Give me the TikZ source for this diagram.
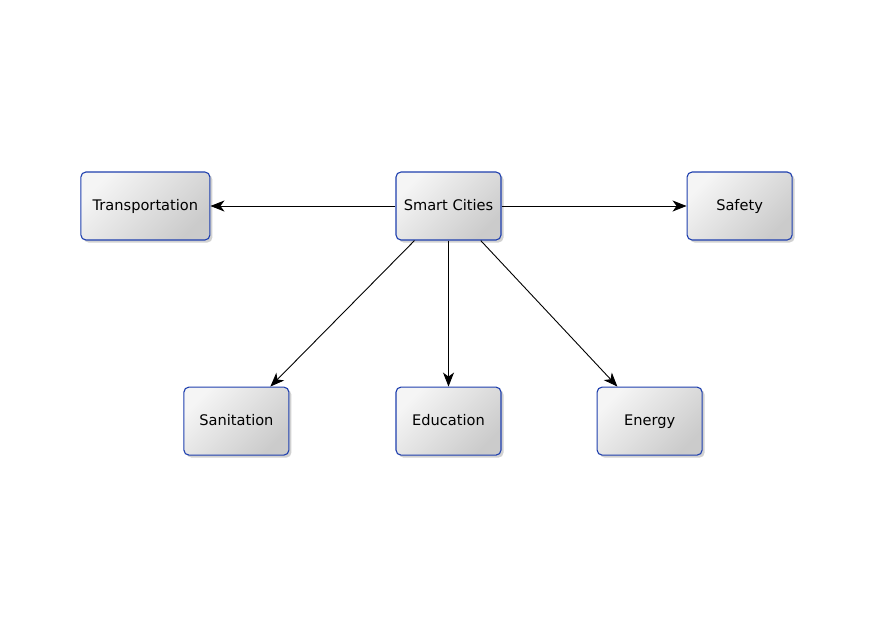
\documentclass[tikz,border=0pt]{standalone}
\usepackage{fontspec}
\setmainfont{DejaVu Sans}
\usetikzlibrary{arrows.meta,positioning,shadows}
\definecolor{boxblue}{HTML}{1E3FAE}
\definecolor{shadelight}{HTML}{F5F5F5}
\definecolor{shadedark}{HTML}{CBCBCB}
\tikzset{
  topic/.style={rectangle,rounded corners=5pt,draw=boxblue,line width=1.1pt,top color=shadelight,bottom color=shadedark,shading angle=45,minimum width=105pt,minimum height=68pt,inner xsep=4pt,text height=11pt,text depth=3pt,align=center,font=\fontsize{14.6}{18}\selectfont,drop shadow={shadow xshift=2.5pt,shadow yshift=-2.5pt,opacity=0.3,fill=black!60}},
  arrow/.style={-{Stealth[length=14pt,width=11pt,inset=4pt]},line width=0.9pt,draw=black}
}

\begin{document}
\begin{tikzpicture}[x=1pt,y=1pt]
  \useasboundingbox (0,0) rectangle (896,-641);
  \node[topic] (city) at (448.5,-206) {Smart Cities};
  \node[topic, minimum width=129pt, left=185pt of city] (transport) {Transportation};
  \node[topic, right=185pt of city] (safety) {Safety};
  \node[topic, below=146pt of city] (education) {Education};
  \node[topic, left=106pt of education] (sanitation) {Sanitation};
  \node[topic, right=95pt of education] (energy) {Energy};
  \draw[arrow] (city) -- (transport);
  \draw[arrow] (city) -- (safety);
  \draw[arrow] (city) -- (sanitation);
  \draw[arrow] (city) -- (education);
  \draw[arrow] (city) -- (energy);
\end{tikzpicture}
\end{document}
